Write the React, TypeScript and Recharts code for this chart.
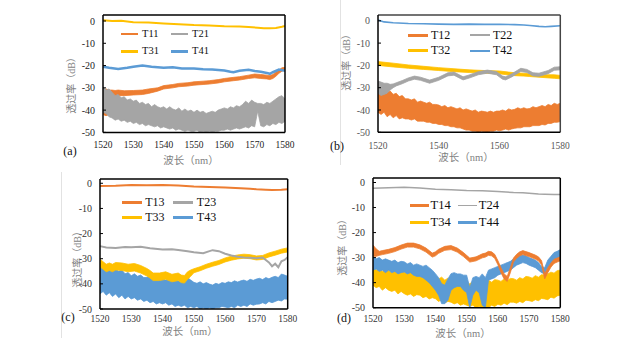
import React from 'react';
import { ComposedChart, Line, Area, XAxis, YAxis, ReferenceLine } from 'recharts';

const ORANGE = '#ED7D31';
const GRAY = '#A5A5A5';
const YELLOW = '#FFC000';
const BLUE = '#5B9BD5';
const SERIF = "'Liberation Serif', 'Noto Sans CJK SC', serif";

const NM = [
  1520, 1521, 1522, 1523, 1524, 1525, 1526, 1527, 1528, 1529,
  1530, 1531, 1532, 1533, 1534, 1535, 1536, 1537, 1538, 1539,
  1540, 1541, 1542, 1543, 1544, 1545, 1546, 1547, 1548, 1549,
  1550, 1551, 1552, 1553, 1554, 1555, 1556, 1557, 1558, 1559,
  1560, 1561, 1562, 1563, 1564, 1565, 1566, 1567, 1568, 1569,
  1570, 1571, 1572, 1573, 1574, 1575, 1576, 1577, 1578, 1579,
  1580,
];

const TICKS_10 = [1520, 1530, 1540, 1550, 1560, 1570, 1580];
const TICKS_20 = [1520, 1540, 1560, 1580];
const Y_TICKS = [0, -10, -20, -30, -40, -50];

// ---------- panel (a) ----------
const A_T11_X = [1520, 1521, 1522, 1523, 1524, 1525, 1527, 1530, 1533, 1535, 1538, 1540, 1543, 1545, 1548, 1550, 1553, 1555, 1558, 1560, 1563, 1565, 1568, 1570, 1572, 1574, 1575, 1576, 1577, 1578, 1579, 1580];
const A_T11_HI = [-31, -30.5, -31, -31, -31.2, -31, -31.3, -31.2, -31, -30.5, -30, -29, -28.5, -28, -27.7, -27.3, -27, -26.8, -26.3, -25.8, -25.3, -25, -24.3, -23.8, -24, -24.3, -24.5, -24, -23, -22, -21, -20.8];
const A_T11_LO = [-42, -42.5, -42, -42, -41.5, -33.5, -33.5, -33.2, -33, -32.5, -31.5, -30.5, -30, -29.5, -29.2, -28.8, -28.5, -28.3, -27.8, -27.3, -26.8, -26.5, -25.8, -25.5, -25.8, -26, -26.3, -25.8, -24.8, -23.5, -22.5, -22];

const A_T21_HI = [
  -29.5, -31, -30.5, -32, -33.5, -33, -34.5, -34, -35.5, -35,
  -36, -35.5, -37, -36.5, -37.5, -37, -38.5, -37.5, -38.5, -39,
  -38.5, -39.5, -38.5, -39.5, -40, -39, -40.5, -39.5, -40.5, -40,
  -41, -40, -41, -40.5, -41.5, -41, -40.5, -41, -40, -39.5,
  -39, -39.5, -38.5, -39, -38, -38.5, -37.5, -36, -37, -35.5,
  -36.5, -37, -37, -37.5, -36.5, -37, -36, -35, -34, -33.5,
  -35,
];
const A_T21_LO = [
  -41, -41.5, -43, -43.5, -44.5, -44, -45, -44.5, -45.5, -45,
  -46, -45.5, -46.5, -46, -47, -46.5, -47, -47.5, -47, -48,
  -47.5, -48, -48.5, -48, -49, -48.5, -49, -49.5, -49, -49.5,
  -49.5, -49, -50, -49.5, -50, -49.5, -50, -49.5, -49.5, -49,
  -49, -48.5, -49, -48.5, -48, -48.5, -48, -47.5, -48, -47,
  -47.5, -40.5, -47, -47.5, -46.5, -47, -46, -46.5, -45.5, -46,
  -45,
];

const A_T31_X = [1520, 1523, 1526, 1530, 1535, 1540, 1545, 1550, 1555, 1560, 1565, 1568, 1571, 1573, 1575, 1577, 1579, 1580];
const A_T31_Y = [0.3, 0, 0.1, -0.5, -0.7, -1.1, -1.4, -1.8, -2, -2.4, -2.5, -2.7, -3, -3.2, -3.3, -3.1, -2.6, -2.2];

const A_T41_X = [1520, 1522, 1525, 1528, 1530, 1533, 1536, 1540, 1543, 1546, 1550, 1553, 1556, 1560, 1562, 1563, 1565, 1568, 1570, 1572, 1574, 1575, 1576, 1578, 1580];
const A_T41_Y = [-20.5, -21, -21.5, -21, -20.5, -20, -20.5, -21, -20.8, -21.3, -21.3, -21.6, -21.8, -22.2, -22.8, -23, -22.3, -21.9, -22.4, -22.8, -23.3, -23.7, -23, -21.8, -22.3];

// ---------- panel (b) ----------
const B_T12_HI = [
  -29, -31, -30, -32, -31.5, -33, -32.5, -34, -33.5, -35,
  -35, -35.5, -35, -36.5, -36, -36.5, -37, -36.5, -37.5, -37.5,
  -37.8, -38.5, -38, -39, -38.5, -39, -39.5, -39, -40, -39.5,
  -40, -40.5, -40, -41, -40.5, -40.7, -41, -40.5, -41, -40.5,
  -40.5, -40, -40.5, -39.5, -40, -39.7, -39, -39.5, -39, -39.5,
  -39.3, -38.5, -39, -38.5, -38, -38.5, -37.5, -38, -37, -37.5,
  -37,
];
const B_T12_LO = [
  -41, -42, -41, -43, -42, -43.5, -42.5, -44, -43.5, -44,
  -44, -44.5, -44, -45, -45, -45, -45.5, -45.5, -46, -46,
  -46.5, -46.5, -47, -47, -47.5, -47.5, -48, -48, -48.5, -49,
  -49, -49.5, -49.5, -50, -49.5, -49.7, -50, -49.5, -49.5, -49,
  -49.3, -49, -48.5, -49, -48.5, -48.2, -48, -48, -47.5, -47.5,
  -47.5, -47, -47, -47, -46.5, -46.7, -46, -46, -45.5, -45.5,
  -45.2,
];

const B_T22_X = [1520, 1521, 1522, 1523, 1524, 1525, 1526, 1528, 1530, 1532, 1534, 1537, 1540, 1543, 1545, 1548, 1550, 1553, 1556, 1559, 1561, 1562, 1564, 1567, 1569, 1571, 1573, 1576, 1578, 1580];
const B_T22_HI = [-27, -27.5, -28, -28, -28.5, -28.3, -27.8, -26.8, -25.6, -24.8, -25.3, -26.6, -25.3, -23.3, -23, -25.1, -24.3, -22.8, -22.1, -22.8, -24.8, -25.1, -23.8, -21.3, -21.8, -23.3, -23.5, -22.3, -20.8, -20.6];
const B_T22_LO = [-32.5, -33.5, -33, -32.5, -31, -30, -29.2, -28.2, -27, -26.2, -26.7, -28, -26.7, -24.7, -24.4, -26.5, -25.7, -24.2, -23.5, -24.2, -26.2, -26.5, -25.2, -22.7, -23.2, -24.7, -24.9, -23.7, -22.2, -22];

const B_T32_X = [1520, 1525, 1530, 1535, 1540, 1545, 1550, 1555, 1560, 1563, 1565, 1568, 1570, 1573, 1575, 1578, 1580];
const B_T32_HI = [-18.3, -19, -19.8, -20.4, -21, -21.5, -22, -22.3, -22.5, -23, -23.3, -23.5, -23.8, -24, -24.2, -24.2, -24.5];
const B_T32_LO = [-20, -20.7, -21.3, -21.8, -22.3, -22.8, -23.2, -23.5, -23.8, -24.3, -24.6, -24.8, -25, -25.3, -25.5, -25.8, -26];

const B_T42_X = [1520, 1522, 1525, 1530, 1535, 1540, 1545, 1550, 1555, 1560, 1565, 1568, 1570, 1573, 1575, 1577, 1580];
const B_T42_Y = [0.3, -0.5, -0.9, -1.2, -1.3, -1.5, -1.6, -1.5, -1.6, -1.6, -1.7, -1.9, -2.1, -2.5, -2.7, -2.5, -2.2];

// ---------- panel (c) ----------
const C_T13_X = [1520, 1525, 1530, 1535, 1540, 1545, 1550, 1555, 1560, 1565, 1568, 1570, 1573, 1575, 1578, 1580];
const C_T13_Y = [-1.1, -1, -0.7, -0.8, -0.7, -0.9, -1.3, -1.5, -1.7, -2, -2.2, -2.4, -2.6, -2.7, -2.6, -2.4];

const C_T23_X = [1520, 1522, 1525, 1528, 1530, 1533, 1536, 1540, 1543, 1545, 1548, 1550, 1553, 1555, 1556, 1558, 1560, 1562, 1564, 1566, 1568, 1570, 1572, 1573, 1574, 1575, 1576, 1577, 1578, 1579, 1580];
const C_T23_Y = [-25, -25.5, -25.7, -25.3, -25.4, -25.2, -25.8, -26.3, -26.2, -26.5, -27, -27.4, -27.8, -27, -26.6, -27, -28, -28.7, -29.2, -29.5, -29.6, -29.8, -29.5, -30.5, -31.5, -33, -32, -33.4, -31, -30.5, -29.4];

const C_T33_X = [1520, 1521, 1522, 1523, 1524, 1525, 1527, 1529, 1531, 1533, 1535, 1536, 1537, 1539, 1541, 1543, 1545, 1546, 1547, 1548, 1549, 1550, 1552, 1554, 1556, 1558, 1560, 1562, 1564, 1566, 1568, 1570, 1572, 1574, 1576, 1578, 1580];
const C_T33_HI = [-30.2, -31.2, -32.2, -31.7, -32.2, -31.5, -31.7, -32.2, -31.9, -32.7, -33.9, -34.7, -35.7, -35.7, -35.2, -36.2, -35.7, -36.5, -36.7, -35.2, -34.5, -34, -33.2, -32.2, -31.4, -30.7, -29.7, -29, -28.5, -28.2, -28.4, -28.9, -28.7, -27.7, -27, -26.2, -25.7];
const C_T33_LO = [-33.2, -34.2, -35.2, -34.7, -35.2, -34.5, -34.7, -35.2, -34.9, -35.7, -36.9, -37.7, -38.7, -38.7, -38.2, -39.2, -38.7, -39.5, -39.7, -38.2, -37, -35.6, -34.8, -33.8, -33, -32.3, -31.3, -30.6, -30.1, -29.8, -30, -30.5, -30.3, -29.3, -28.6, -27.8, -27.3];

const C_T43_HI = [
  -32, -33, -32.5, -34, -33.5, -34, -35, -34.5, -36, -35.5,
  -36.8, -36, -37, -36.5, -37.5, -37.4, -37, -38, -37.5, -38.2,
  -38.1, -38.5, -38, -39, -38.5, -38.8, -39.5, -38.5, -37.5, -38.5,
  -39.4, -39.8, -39.2, -40, -39.5, -40.1, -40.5, -39.8, -40.2, -39.5,
  -39.8, -39.2, -39.5, -38.8, -39.3, -38.8, -38.5, -39, -38.2, -38.6,
  -38.1, -37.8, -38.3, -37.5, -38, -37.4, -37, -37.5, -36.1, -36.5,
  -37,
];
const C_T43_LO = [
  -44, -43, -44.5, -43.5, -45, -44, -45.5, -44.5, -46, -45,
  -46, -45.5, -46.5, -46, -47, -46.5, -47.5, -47, -48, -47.5,
  -48, -47.5, -48.5, -48, -49, -48.5, -49, -48.5, -49.5, -49,
  -49.5, -49, -50, -49.5, -50, -49.5, -50, -49.5, -49.5, -49,
  -49.2, -49.5, -49, -49.5, -48.5, -49, -48.5, -49, -48, -48.5,
  -48.1, -48, -47.5, -48, -47, -47.5, -47, -46.5, -46.8, -46,
  -46.1,
];

// ---------- panel (d) ----------
const D_T14_X = [1520, 1521, 1522, 1523, 1525, 1527, 1529, 1531, 1533, 1535, 1537, 1538, 1539, 1540, 1541, 1543, 1545, 1547, 1549, 1551, 1553, 1555, 1556, 1557, 1558, 1559, 1560, 1561, 1562, 1563, 1564, 1565, 1566, 1567, 1568, 1570, 1572, 1573, 1574, 1575, 1576, 1577, 1578, 1579, 1580];
const D_T14_HI = [-25, -26.5, -27.5, -27.2, -26.7, -26, -25, -24.2, -24.2, -24.9, -26.2, -27.2, -28.2, -27.7, -26.7, -25.5, -25.2, -26.2, -28, -30.2, -29.7, -28.5, -28.2, -27.5, -27.7, -28.7, -31.2, -34, -36.5, -37.5, -34, -30.2, -28.7, -27.7, -27.2, -28, -29, -29.7, -31.2, -36.5, -34, -32.2, -30.7, -30.2, -29.7];
const D_T14_LO = [-29.5, -29.5, -29.1, -28.8, -28.3, -27.6, -26.6, -25.8, -25.8, -26.5, -27.8, -28.8, -29.8, -29.3, -28.3, -27.1, -26.8, -27.8, -29.6, -31.8, -31.3, -30.1, -29.8, -29.1, -29.3, -30.3, -32.8, -36, -38.5, -39.5, -36, -31.8, -30.3, -29.3, -28.8, -29.6, -30.6, -31.3, -32.8, -38.5, -36, -33.8, -32.3, -31.8, -31.3];

const D_T24_X = [1520, 1525, 1530, 1535, 1540, 1545, 1550, 1555, 1560, 1565, 1568, 1570, 1573, 1575, 1578, 1580];
const D_T24_Y = [-2.3, -2.1, -1.9, -2.2, -2.7, -2.9, -3.2, -3.3, -3.6, -4, -4.1, -4.3, -4.6, -4.7, -4.8, -4.8];

const D_T34_HI = [
  -33.7, -35, -34, -35.5, -34.5, -35, -36, -35, -36.5, -35.5,
  -35.7, -36.5, -35.5, -36.8, -36, -36.4, -37.5, -36.5, -38, -37,
  -37.7, -38.5, -37.8, -39, -38.2, -39, -39.8, -38.8, -40, -39.2,
  -39.7, -40.5, -39.5, -40.8, -40, -40.4, -39.5, -39, -39.8, -38.8,
  -39, -39.5, -38.5, -39.2, -38.3, -38.4, -39, -38, -38.5, -37.5,
  -37.7, -38.2, -37.2, -37.8, -36.8, -37, -36.5, -35.8, -36.2, -35.2,
  -35,
];
const D_T34_LO = [
  -41, -42, -41.5, -43, -42, -43, -43.5, -43, -44.5, -43.5,
  -44.4, -45, -44.5, -45.5, -44.8, -45, -46, -45.5, -46.5, -46,
  -46.4, -47.5, -46.8, -48, -47.5, -47.8, -48.5, -48, -49, -48.5,
  -49, -49.5, -49, -50, -49.5, -50, -49.5, -50, -49, -49.5,
  -48.6, -49, -48.2, -48.8, -47.8, -47.8, -48.2, -47.5, -48, -47,
  -47.2, -47.5, -46.8, -47.2, -46.3, -46.5, -46.8, -45.8, -46.2, -45.3,
  -45,
];

const D_T44_HI = [
  -29.5, -30.5, -30, -31, -30.5, -31, -31.5, -31, -32, -31.5,
  -31.7, -32.5, -32, -33, -32.5, -33, -33.5, -33, -34, -35,
  -36.4, -38, -40.4, -41, -38.5, -36.4, -36, -36.5, -36.5, -37,
  -37, -42, -38, -37.5, -38, -36.5, -38, -35, -34.5, -34,
  -33.5, -33, -32.5, -32, -31.5, -30.5, -29.5, -29.2, -29, -29.3,
  -30, -30.5, -31, -32, -33.5, -34, -31, -29.5, -28, -27.5,
  -26.8,
];
const D_T44_LO = [
  -35, -34.5, -35.5, -35, -36, -35, -36, -35.5, -36.5, -36,
  -35.7, -36.5, -36, -37, -37.5, -37.5, -38, -39, -40, -41.5,
  -43, -45, -48.4, -48.4, -47, -43, -42, -41.5, -41.5, -43,
  -44, -50, -45, -43, -44, -49, -50, -39, -38.5, -38,
  -37, -36.5, -36, -35.5, -35, -34, -33, -32.5, -32, -32.3,
  -33, -33.5, -34, -35, -36, -36.5, -34, -32.5, -31, -30.5,
  -30,
];

type Pt = { x: number; v: number | [number, number] };
const band = (xs: number[], lo: number[], hi: number[]): Pt[] => xs.map((x, i) => ({ x, v: [lo[i], hi[i]] }));
const line = (xs: number[], ys: number[]): Pt[] => xs.map((x, i) => ({ x, v: ys[i] }));

type Ser = { name: string; color: string; kind: 'line' | 'band'; data: Pt[]; sw: number; lw: number };

type PanelCfg = {
  L: number; T: number; R: number; B: number; yTop: number; xTicks: number[];
  legend: Ser[]; draw: Ser[]; frame: string; tickFill: string; xTickMargin: number;
  leg: { c1: number; c2: number; len: number; r1: number; r2: number; fs: number; gap: number };
  label: string; labelPos: [number, number];
  xTitle: [number, number]; yTitle: [number, number];
};

const sA = {
  T11: { name: 'T11', color: ORANGE, kind: 'band', data: band(A_T11_X, A_T11_LO, A_T11_HI), sw: 0.8, lw: 2 } as Ser,
  T21: { name: 'T21', color: GRAY, kind: 'band', data: band(NM, A_T21_LO, A_T21_HI), sw: 0.8, lw: 1.5 } as Ser,
  T31: { name: 'T31', color: YELLOW, kind: 'line', data: line(A_T31_X, A_T31_Y), sw: 2, lw: 3 } as Ser,
  T41: { name: 'T41', color: BLUE, kind: 'line', data: line(A_T41_X, A_T41_Y), sw: 2.5, lw: 3 } as Ser,
};
const sB = {
  T12: { name: 'T12', color: ORANGE, kind: 'band', data: band(NM, B_T12_LO, B_T12_HI), sw: 0.8, lw: 3 } as Ser,
  T22: { name: 'T22', color: GRAY, kind: 'band', data: band(B_T22_X, B_T22_LO, B_T22_HI), sw: 0.8, lw: 2 } as Ser,
  T32: { name: 'T32', color: YELLOW, kind: 'band', data: band(B_T32_X, B_T32_LO, B_T32_HI), sw: 0.8, lw: 3.5 } as Ser,
  T42: { name: 'T42', color: BLUE, kind: 'line', data: line(B_T42_X, B_T42_Y), sw: 1.6, lw: 2 } as Ser,
};
const sC = {
  T13: { name: 'T13', color: ORANGE, kind: 'line', data: line(C_T13_X, C_T13_Y), sw: 2, lw: 2.5 } as Ser,
  T23: { name: 'T23', color: GRAY, kind: 'line', data: line(C_T23_X, C_T23_Y), sw: 2, lw: 2.5 } as Ser,
  T33: { name: 'T33', color: YELLOW, kind: 'band', data: band(C_T33_X, C_T33_LO, C_T33_HI), sw: 0.8, lw: 2.5 } as Ser,
  T43: { name: 'T43', color: BLUE, kind: 'band', data: band(NM, C_T43_LO, C_T43_HI), sw: 0.8, lw: 2.5 } as Ser,
};
const sD = {
  T14: { name: 'T14', color: ORANGE, kind: 'band', data: band(D_T14_X, D_T14_LO, D_T14_HI), sw: 0.8, lw: 2.5 } as Ser,
  T24: { name: 'T24', color: GRAY, kind: 'line', data: line(D_T24_X, D_T24_Y), sw: 1.5, lw: 1.5 } as Ser,
  T34: { name: 'T34', color: YELLOW, kind: 'band', data: band(NM, D_T34_LO, D_T34_HI), sw: 0.8, lw: 3 } as Ser,
  T44: { name: 'T44', color: BLUE, kind: 'band', data: band(NM, D_T44_LO, D_T44_HI), sw: 0.8, lw: 2.5 } as Ser,
};

const PANELS: PanelCfg[] = [
  {
    L: 103, T: 15.3, R: 285, B: 132.7, yTop: 2.7, xTicks: TICKS_10,
    legend: [sA.T11, sA.T21, sA.T31, sA.T41], draw: [sA.T11, sA.T21, sA.T31, sA.T41],
    frame: '#000', tickFill: '#222', xTickMargin: 9,
    leg: { c1: 121, c2: 171, len: 17, r1: 34, r2: 51.5, fs: 10.5, gap: 4 },
    label: '(a)', labelPos: [70, 151], xTitle: [191, 161], yTitle: [72, 83],
  },
  {
    L: 377.7, T: 15, R: 560, B: 132.3, yTop: 2.6, xTicks: TICKS_20,
    legend: [sB.T12, sB.T22, sB.T32, sB.T42], draw: [sB.T12, sB.T32, sB.T22, sB.T42],
    frame: '#444', tickFill: '#555', xTickMargin: 9.5,
    leg: { c1: 408, c2: 470, len: 20, r1: 35, r2: 50.7, fs: 12, gap: 3 },
    label: '(b)', labelPos: [337, 146], xTitle: [466, 157.5], yTitle: [347, 60],
  },
  {
    L: 100, T: 179, R: 287.7, B: 309, yTop: 1.7, xTicks: TICKS_10,
    legend: [sC.T13, sC.T23, sC.T33, sC.T43], draw: [sC.T13, sC.T23, sC.T43, sC.T33],
    frame: '#000', tickFill: '#333', xTickMargin: 6.5,
    leg: { c1: 121.7, c2: 173.3, len: 20, r1: 202.3, r2: 217.7, fs: 12, gap: 3.5 },
    label: '(c)', labelPos: [68, 316.7], xTitle: [190, 331.7], yTitle: [78, 257],
  },
  {
    L: 372.7, T: 178.3, R: 560, B: 308, yTop: 1.8, xTicks: TICKS_10,
    legend: [sD.T14, sD.T24, sD.T34, sD.T44], draw: [sD.T34, sD.T44, sD.T14, sD.T24],
    frame: '#000', tickFill: '#333', xTickMargin: 7.5,
    leg: { c1: 410, c2: 458.3, len: 18.5, r1: 205.7, r2: 222.3, fs: 12.5, gap: 2 },
    label: '(d)', labelPos: [344, 318], xTitle: [463, 334], yTitle: [343, 245],
  },
];

function Panel({ p }: { p: PanelCfg }) {
  const YW = 40, MT = 4, MR = 16, XH = 30;
  const W = p.R - p.L + YW + MR;
  const H = p.B - p.T + MT + XH;
  return (
    <div style={{ position: 'absolute', left: p.L - YW, top: p.T - MT, width: W, height: H }}>
      <ComposedChart width={W} height={H} margin={{ top: MT, right: MR, left: 0, bottom: 0 }}>
        {p.draw.map((s) =>
          s.kind === 'band' ? (
            <Area
              key={s.name}
              data={s.data}
              dataKey="v"
              type="linear"
              stroke={s.color}
              strokeWidth={s.sw}
              fill={s.color}
              fillOpacity={1}
              dot={false}
              activeDot={false}
              isAnimationActive={false}
            />
          ) : (
            <Line
              key={s.name}
              data={s.data}
              dataKey="v"
              type="linear"
              stroke={s.color}
              strokeWidth={s.sw}
              dot={false}
              activeDot={false}
              isAnimationActive={false}
            />
          )
        )}
        <XAxis
          dataKey="x"
          type="number"
          domain={[1520, 1580]}
          ticks={p.xTicks}
          interval={0}
          allowDataOverflow
          height={XH}
          axisLine={{ stroke: '#000', strokeWidth: 1.5 }}
          tickLine={false}
          tickSize={0}
          tickMargin={p.xTickMargin}
          tick={{ fontSize: 9.5, fill: p.tickFill, fontFamily: SERIF }}
        />
        <YAxis
          type="number"
          domain={[-50, p.yTop]}
          ticks={Y_TICKS}
          interval={0}
          allowDataOverflow
          width={YW}
          axisLine={{ stroke: '#000', strokeWidth: 1.5 }}
          tickLine={{ stroke: '#000' }}
          tickSize={-3}
          tickMargin={11}
          tick={{ fontSize: 10, fill: p.tickFill, fontFamily: SERIF }}
        />
        <ReferenceLine y={p.yTop} stroke={p.frame} strokeWidth={1.5} />
        <ReferenceLine x={1580} stroke={p.frame} strokeWidth={1.5} />
      </ComposedChart>
    </div>
  );
}

function Legend({ p }: { p: PanelCfg }) {
  const { c1, c2, len, r1, r2, fs, gap } = p.leg;
  const pos = [
    [c1, r1],
    [c2, r1],
    [c1, r2],
    [c2, r2],
  ];
  return (
    <>
      {p.legend.map((s, i) => {
        const [x, y] = pos[i];
        return (
          <React.Fragment key={s.name}>
            <div style={{ position: 'absolute', left: x, top: y - s.lw / 2, width: len, height: s.lw, background: s.color }} />
            <div
              style={{
                position: 'absolute',
                left: x + len + gap,
                top: y - fs * 0.52,
                fontSize: fs,
                lineHeight: `${fs}px`,
                fontFamily: SERIF,
                color: '#111',
                whiteSpace: 'nowrap',
              }}
            >
              {s.name}
            </div>
          </React.Fragment>
        );
      })}
    </>
  );
}

function Titles({ p }: { p: PanelCfg }) {
  return (
    <>
      <div
        style={{
          position: 'absolute', left: p.xTitle[0], top: p.xTitle[1], transform: 'translate(-50%, -50%)',
          fontSize: 10.5, fontFamily: SERIF, color: '#7f7f7f', whiteSpace: 'nowrap', lineHeight: '12px',
        }}
      >
        波长（nm）
      </div>
      <div
        style={{
          position: 'absolute', left: p.yTitle[0], top: p.yTitle[1], transform: 'translate(-50%, -50%) rotate(-90deg)',
          fontSize: 10, fontFamily: SERIF, color: '#7f7f7f', whiteSpace: 'nowrap', lineHeight: '12px',
        }}
      >
        透过率（dB）
      </div>
      <div
        style={{
          position: 'absolute', left: p.labelPos[0], top: p.labelPos[1], transform: 'translate(-50%, -50%)',
          fontSize: 12, fontFamily: SERIF, color: '#111', whiteSpace: 'nowrap', lineHeight: '14px',
        }}
      >
        {p.label}
      </div>
    </>
  );
}

export default function App() {
  return (
    <div style={{ position: 'absolute', left: 0, top: 0, width: 634, height: 345, background: '#fff', overflow: 'hidden' }}>
      <div style={{ position: 'absolute', left: 340, top: 0, width: 1, height: 165, background: '#e2e2e2' }} />
      <div style={{ position: 'absolute', left: 61, top: 172, width: 1, height: 166, background: '#e2e2e2' }} />
      {PANELS.map((p) => (
        <React.Fragment key={p.label}>
          <Panel p={p} />
          <Legend p={p} />
          <Titles p={p} />
        </React.Fragment>
      ))}
    </div>
  );
}
